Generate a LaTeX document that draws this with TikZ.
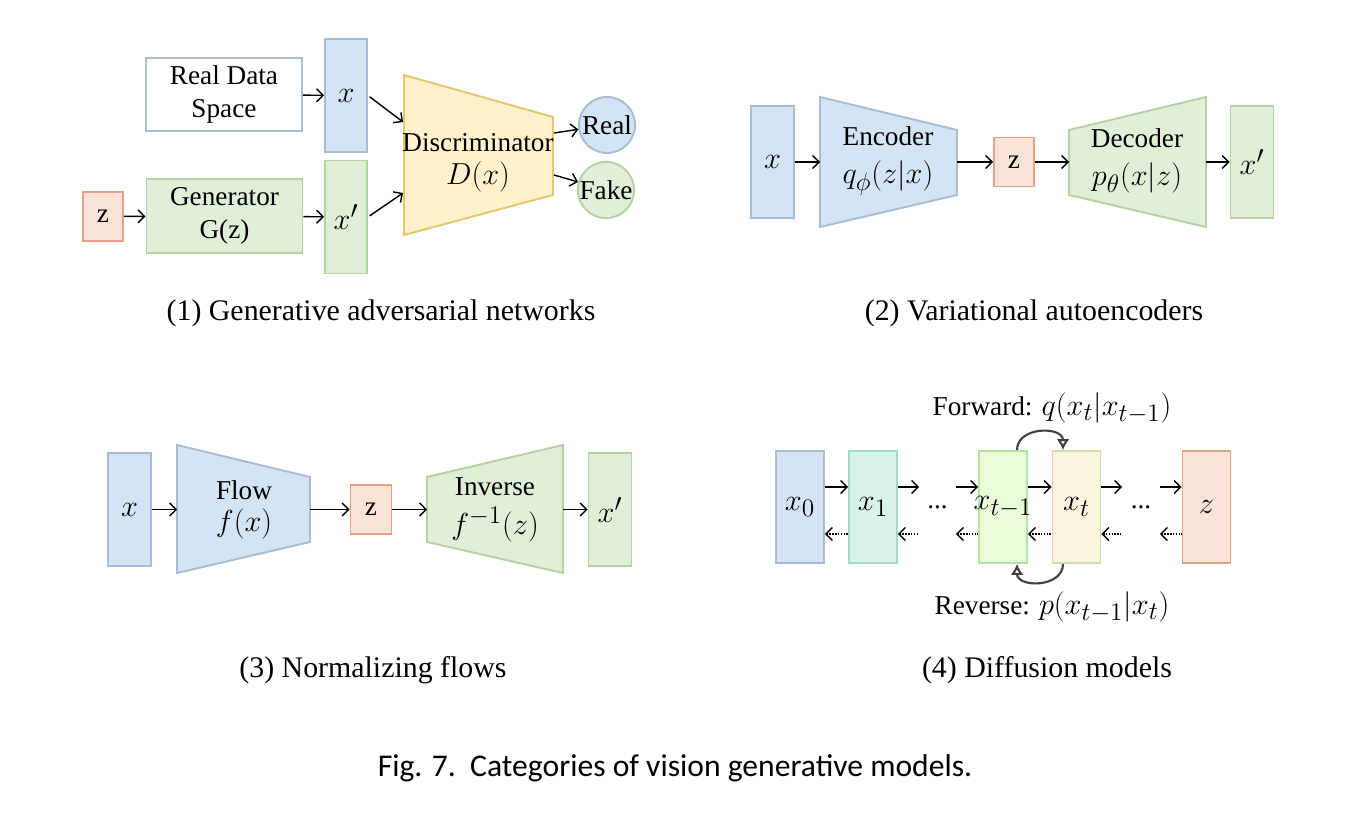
\documentclass[tikz,border=0pt]{standalone}
\usepackage{fontspec}
\setmainfont{Liberation Serif}
\newfontfamily\capfont{Carlito}
\usetikzlibrary{arrows.meta, positioning, calc}
\usepackage{amsmath}
\usepackage{xcolor}
\DeclareMathSizes{15.5}{18.5}{13.5}{10}

\definecolor{bluefill}{HTML}{D5E4F4}
\definecolor{blueline}{HTML}{A8BDD3}
\definecolor{greenfill}{HTML}{E1EFD9}
\definecolor{greenline}{HTML}{B7D2A2}
\definecolor{orangefill}{HTML}{FBE4D7}
\definecolor{orangeline}{HTML}{E5A383}
\definecolor{yellowfill}{HTML}{FFF1CB}
\definecolor{yellowline}{HTML}{E7C66C}
\definecolor{tealfill}{HTML}{D8F4E9}
\definecolor{tealline}{HTML}{9EDCC6}
\definecolor{limefill}{HTML}{EAFBD9}
\definecolor{limeline}{HTML}{B0E5A0}
\definecolor{creamfill}{HTML}{FBF4DF}
\definecolor{creamline}{HTML}{D8DBA8}

\begin{document}
\begin{tikzpicture}[x=0.02cm, y=-0.02cm, line width=0.8pt, >={Straight Barb[length=1.3mm, width=2.6mm]}, font=\fontsize{15.5}{18.5}\selectfont]

		\useasboundingbox (0,0) rectangle (1363,814);

		% Define styles
		\tikzstyle{box} = [rectangle, line width=1.1pt, inner sep=0pt, text centered]
		\tikzstyle{real} = [box, draw=blueline, fill=bluefill, minimum width=8.4mm, minimum height=22.6mm]
		\tikzstyle{fake} = [box, draw=greenline, fill=greenfill, minimum width=8.4mm, minimum height=22.6mm]
		\tikzstyle{latent} = [box, draw=orangeline, fill=orangefill, minimum width=8mm, minimum height=9.8mm]
		\tikzstyle{net} = [box, align=center, minimum width=31.2mm, minimum height=14.7mm]
		\tikzstyle{trap} = [line width=1.1pt]
		\tikzstyle{state} = [box, minimum width=9.6mm, minimum height=22.4mm]
		\tikzstyle{gap} = [box, minimum height=22.4mm]
		\tikzstyle{back} = [<-, dash pattern=on 0.8pt off 0.8pt]
		\tikzstyle{loop} = [-{Latex[open, length=2.2mm, width=2.6mm]}, line width=1.2pt, black!75]
		\tikzstyle{panel} = [font=\fontsize{17}{20}\selectfont]

		% (1) GAN
		\node[net, draw=blueline, fill=white] (space) at (224,94.5) {Real Data\\Space};
		\node[real] (x) at (346,95.5) {$x$};
		\node[latent] (z) at (103,216.5) {z};
		\node[net, draw=greenline, fill=greenfill] (gen) at (224.5,216) {Generator\\G(z)};
		\node[fake] (xf) at (346,217) {$x'$};

		\draw[trap, draw=yellowline, fill=yellowfill] (404,75) -- (553,117) -- (553,195) -- (404,235) -- cycle;
		\node[align=center] (disc) at (478,163) {Discriminator\\$D(x)$};
		\coordinate (din1) at (403,122);
		\coordinate (din2) at (403,193);
		\coordinate (dout1) at (554,133);
		\coordinate (dout2) at (554,175);

		\node[circle, draw=blueline, fill=bluefill, line width=1.1pt, minimum size=11.2mm, inner sep=0pt] (realout) at (607,125) {Real};
		\node[circle, draw=greenline, fill=greenfill, line width=1.1pt, minimum size=11.2mm, inner sep=0pt] (fakeout) at (606,190) {Fake};

		\draw[->] (space) -- (x);
		\draw[->] (z) -- (gen);
		\draw[->] (gen) -- (xf);
		\draw[->, shorten <=0.4mm] (x.east) -- (din1);
		\draw[->, shorten <=0.4mm] (xf.east) -- (din2);
		\draw[->] (dout1) -- (realout);
		\draw[->] (dout2) -- (fakeout);

		\node[panel] (cap1) at (381,313) {(1) Generative adversarial networks};

		% (2) VAE
		\node[real, minimum width=8.6mm, minimum height=22.4mm] (vx) at (772.5,162) {$x$};
		\draw[trap, draw=blueline, fill=bluefill] (820,97) -- (957,130) -- (957,195) -- (820,227) -- cycle;
		\node[align=center] (enc) at (888,161) {Encoder\\[3pt]$q_\phi(z|x)$};
		\coordinate (encL) at (820,162);
		\coordinate (encR) at (957,162);
		\node[latent] (vz) at (1014,162) {z};
		\draw[trap, draw=greenline, fill=greenfill] (1069,130) -- (1206,97) -- (1206,227) -- (1069,195) -- cycle;
		\node[align=center] (dec) at (1137,161) {Decoder\\[3pt]$p_\theta(x|z)$};
		\coordinate (decL) at (1069,162);
		\coordinate (decR) at (1206,162);
		\node[fake, minimum width=8.6mm, minimum height=22.4mm] (vxf) at (1252,162) {$x'$};

		\draw[->] (vx) -- (encL);
		\draw[->] (encR) -- (vz);
		\draw[->] (vz) -- (decL);
		\draw[->] (decR) -- (vxf);

		\node[panel] (cap2) at (1034,313) {(2) Variational autoencoders};

		% (3) Normalizing flows
		\node[real, minimum width=8.6mm] (fx) at (129.5,509.5) {$x$};
		\draw[trap, draw=blueline, fill=bluefill] (177,445) -- (310,477) -- (310,542) -- (177,573) -- cycle;
		\node[align=center] (flow) at (244,510) {Flow\\$f(x)$};
		\coordinate (flowL) at (177,509.5);
		\coordinate (flowR) at (310,509.5);
		\node[latent, minimum width=8.2mm] (fz) at (371,509.5) {z};
		\draw[trap, draw=greenline, fill=greenfill] (427,477) -- (563,445) -- (563,573) -- (427,542) -- cycle;
		\node[align=center] (inv) at (495,510) {Inverse\\[4pt]$f^{-1}(z)$};
		\coordinate (invL) at (427,509.5);
		\coordinate (invR) at (563,509.5);
		\node[fake, minimum width=8.6mm] (fxf) at (610,509.5) {$x'$};

		\draw[->] (fx) -- (flowL);
		\draw[->] (flowR) -- (fz);
		\draw[->] (fz) -- (invL);
		\draw[->] (invR) -- (fxf);

		\node[panel] (cap3) at (373,670) {(3) Normalizing flows};

		% (4) Diffusion models
		\node[state, draw=blueline, fill=bluefill] (x0) at (800,507) {$x_0$};
		\node[state, draw=tealline, fill=tealfill] (x1) at (873,507) {$x_1$};
		\node[gap, minimum width=7mm] (dots1) at (937.5,507) {...};
		\node[state, draw=limeline, fill=limefill] (xt1) at (1003,507) {\makebox[0pt]{$x_{t-1}$}};
		\node[state, draw=creamline, fill=creamfill] (xt) at (1076.5,507) {$x_t$};
		\node[gap, minimum width=7.2mm] (dots2) at (1141,507) {...};
		\node[state, draw=orangeline, fill=orangefill] (zd) at (1206.5,507) {$z$};

		\draw[->] ([yshift=4mm]x0.east) -- ([yshift=4mm]x1.west);
		\draw[->] ([yshift=4mm]x1.east) -- ([yshift=4mm]dots1.west);
		\draw[->] ([yshift=4mm]dots1.east) -- ([yshift=4mm]xt1.west);
		\draw[->] ([yshift=4mm]xt1.east) -- ([yshift=4mm]xt.west);
		\draw[->] ([yshift=4mm]xt.east) -- ([yshift=4mm]dots2.west);
		\draw[->] ([yshift=4mm]dots2.east) -- ([yshift=4mm]zd.west);

		\draw[back] ([yshift=-5.4mm]x0.east) -- ([yshift=-5.4mm]x1.west);
		\draw[back] ([yshift=-5.4mm]x1.east) -- ([yshift=-5.4mm]dots1.west);
		\draw[back] ([yshift=-5.4mm]dots1.east) -- ([yshift=-5.4mm]xt1.west);
		\draw[back] ([yshift=-5.4mm]xt1.east) -- ([yshift=-5.4mm]xt.west);
		\draw[back] ([yshift=-5.4mm]xt.east) -- ([yshift=-5.4mm]dots2.west);
		\draw[back] ([yshift=-5.4mm]dots2.east) -- ([yshift=-5.4mm]zd.west);

		\draw[loop] ([xshift=2.8mm]xt1.north) .. controls +(0,-24) and +(0,-24) .. ([xshift=-2.7mm]xt.north);
		\draw[loop] ([xshift=-2.7mm]xt.south) .. controls +(0,24) and +(0,24) .. ([xshift=2.8mm]xt1.south);

		\node (fwd) at (1052,408) {Forward: $q(x_t|x_{t-1})$};
		\node (rev) at (1052,607) {Reverse: $p(x_{t-1}|x_t)$};

		\node[panel] (cap4) at (1047,670) {(4) Diffusion models};

		% Figure caption
		\node[font=\capfont\fontsize{18}{21}\selectfont] (figcap) at (675,768) {Fig. 7.\ \ Categories of vision generative models.};

	\end{tikzpicture}
\end{document}
